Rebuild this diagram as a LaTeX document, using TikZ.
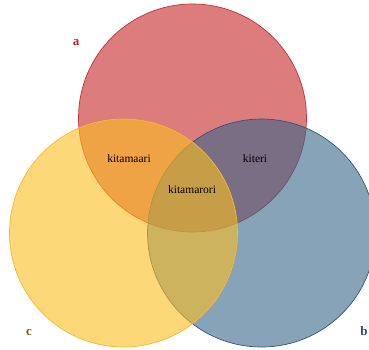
\documentclass[tikz,border=0pt]{standalone}
\usepackage{fontspec}
\setmainfont{Liberation Serif}
\definecolor{redfill}{RGB}{197,38,38}
\definecolor{redline}{RGB}{192,50,60}
\definecolor{yelfill}{RGB}{252,190,33}
\definecolor{yelline}{RGB}{245,185,50}
\definecolor{blufill}{RGB}{55,102,137}
\definecolor{bluline}{RGB}{50,85,125}
\definecolor{labred}{RGB}{200,30,40}
\definecolor{labyel}{RGB}{115,90,30}
\definecolor{labblu}{RGB}{40,70,120}
\tikzset{
  setcirc/.style={circle, minimum size=228pt, inner sep=0pt, fill opacity=0.6, line width=0.7pt},
  region/.style={font=\fontsize{11.5}{13}\selectfont, text=black, inner sep=0pt},
  setlab/.style={font=\fontsize{13}{15}\selectfont\bfseries, inner sep=0pt}
}
\begin{document}
\begin{tikzpicture}[x=1pt,y=-1pt]
\useasboundingbox (0,0) rectangle (369,349);
\clip (0,0) rectangle (369,349);
\fill[white] (0,0) rectangle (369,349);
\node[setcirc, fill=redfill, draw=redline] (A) at (192.5,118) {};
\node[setcirc, fill=blufill, draw=bluline] (B) at (261.5,233) {};
\node[setcirc, fill=yelfill, draw=yelline] (C) at (123.5,233) {};
\node[region] (ac) at (129,159) {kitamaari};
\node[region] (ab) at (255,159) {kiteri};
\node[region] (abc) at (192,190) {kitamarori};
\node[setlab, text=labred] (la) at (76,43) {a};
\node[setlab, text=labyel] (lc) at (29,332) {c};
\node[setlab, text=labblu] (lb) at (364,331) {b};
\end{tikzpicture}
\end{document}
